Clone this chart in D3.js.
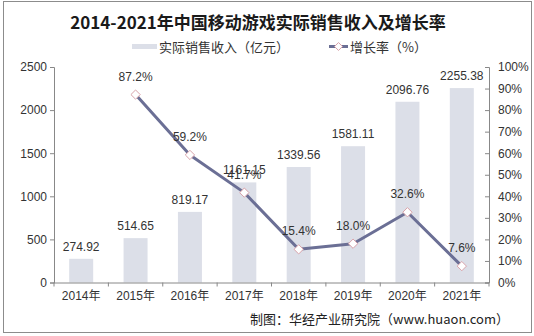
<!DOCTYPE html>
<html><head><meta charset="utf-8">
<script src="https://cdn.jsdelivr.net/npm/d3@7"></script>
<style>body{margin:0;background:#fff}svg{display:block}</style>
</head><body>
<svg id="c" width="534" height="336"></svg>
<script>
const years = ["2014年","2015年","2016年","2017年","2018年","2019年","2020年","2021年"];
const revenue = [274.92, 514.65, 819.17, 1161.15, 1339.56, 1581.11, 2096.76, 2255.38];
const growth = [null, 87.2, 59.2, 41.7, 15.4, 18.0, 32.6, 7.6];
const leftTicks = [0, 500, 1000, 1500, 2000, 2500];
const rightTicks = [0,10,20,30,40,50,60,70,80,90,100];
const title = "2014-2021年中国移动游戏实际销售收入及增长率";
const legendBar = "实际销售收入（亿元）";
const legendLine = "增长率（%）";
const source = "制图：华经产业研究院（www.huaon.com）";

const font = "'Liberation Sans', Arial, 'Noto Sans CJK SC', sans-serif";
const svg = d3.select("#c");
const L = 54, R = 489, T = 67, B = 282.5;
const textColor = "#333";

svg.append("rect").attr("x",3.5).attr("y",1.5).attr("width",528).attr("height",331)
  .attr("fill","#fff").attr("stroke","#8c8c8c").attr("stroke-width",1);

const x = d3.scaleBand().domain(years).range([L, R]);
const yL = d3.scaleLinear().domain([0,2500]).range([B, T]);
const yR = d3.scaleLinear().domain([0,100]).range([B, T]);

// title
svg.append("text").attr("x",258).attr("y",29).attr("text-anchor","middle")
  .attr("font-family","'Noto Sans CJK SC', sans-serif").attr("font-weight","bold")
  .attr("font-size",17).attr("fill","#1a1a1a").text(title);

// legend
const lg = svg.append("g").attr("font-family","'Noto Sans CJK SC', sans-serif").attr("font-size",13).attr("fill",textColor);
lg.append("rect").attr("x",132).attr("y",44).attr("width",25).attr("height",5).attr("fill","#dcdfe8");
lg.append("text").attr("x",159).attr("y",51.5).text(legendBar);
lg.append("line").attr("x1",329).attr("x2",348).attr("y1",46.5).attr("y2",46.5).attr("stroke","#6b6f95").attr("stroke-width",3);
lg.append("path").attr("d",d3.symbol(d3.symbolDiamond2? d3.symbolDiamond2 : d3.symbolDiamond, 40)())
  .attr("transform","translate(338.5,46.5)").attr("fill","#fff").attr("stroke","#d9a3aa").attr("stroke-width",1);
lg.append("text").attr("x",350).attr("y",51.5).text(legendLine);

// bars
const bw = 24;
svg.append("g").selectAll("rect").data(revenue).join("rect")
  .attr("x",(d,i)=>x(years[i]) + x.bandwidth()/2 - bw/2)
  .attr("y",d=>yL(d)).attr("width",bw).attr("height",d=>B - yL(d))
  .attr("fill","#dcdfe8");

// axes
const axL = svg.append("g").attr("transform",`translate(${L},0)`)
  .call(d3.axisLeft(yL).tickValues(leftTicks).tickSize(4).tickPadding(3).tickFormat(d3.format("d")));
const axR = svg.append("g").attr("transform",`translate(${R},0)`)
  .call(d3.axisRight(yR).tickValues(rightTicks).tickSize(-4).tickPadding(9).tickFormat(d=>d+"%"));
const axX = svg.append("g").attr("transform",`translate(0,${B})`)
  .call(d3.axisBottom(x).tickSize(0).tickPadding(9));
// boundary ticks on x axis
svg.append("g").selectAll("line").data(d3.range(years.length+1)).join("line")
  .attr("x1",i=>L + i*x.step()).attr("x2",i=>L + i*x.step())
  .attr("y1",B).attr("y2",B+4).attr("stroke","#888");
[axL,axR,axX].forEach(a=>{
  a.selectAll("path,line").attr("stroke","#888");
  a.selectAll("text").attr("font-family",font).attr("font-size",12).attr("fill",textColor);
});
axX.select(".domain").attr("d",`M${L},0.5H${R}`);

// bar labels
svg.append("g").selectAll("text").data(revenue).join("text")
  .attr("x",(d,i)=>x(years[i]) + x.bandwidth()/2).attr("y",d=>yL(d) - 8)
  .attr("text-anchor","middle").attr("font-family",font).attr("font-size",12).attr("fill",textColor)
  .text(d=>d.toFixed(2));

// line
const pts = growth.map((g,i)=>({g, i})).filter(d=>d.g!=null);
const line = d3.line().x(d=>x(years[d.i]) + x.bandwidth()/2).y(d=>yR(d.g));
svg.append("path").datum(pts).attr("d",line).attr("fill","none")
  .attr("stroke","#6b6f95").attr("stroke-width",3).attr("stroke-linejoin","round");
svg.append("g").selectAll("path").data(pts).join("path")
  .attr("d",d3.symbol(d3.symbolDiamond2 ? d3.symbolDiamond2 : d3.symbolDiamond, 55)())
  .attr("transform",d=>`translate(${x(years[d.i]) + x.bandwidth()/2},${yR(d.g)})`)
  .attr("fill","#fff").attr("stroke","#d9a3aa").attr("stroke-width",1);
svg.append("g").selectAll("text").data(pts).join("text")
  .attr("x",d=>x(years[d.i]) + x.bandwidth()/2).attr("y",d=>yR(d.g) - 14)
  .attr("text-anchor","middle").attr("font-family",font).attr("font-size",12).attr("fill",textColor)
  .text(d=>d.g.toFixed(1)+"%");

// source
svg.append("text").attr("x",509).attr("y",324).attr("text-anchor","end")
  .attr("font-family","'Noto Sans CJK SC', 'Liberation Sans', sans-serif").attr("font-size",13).attr("fill","#222")
  .text(source);
</script>
</body></html>
